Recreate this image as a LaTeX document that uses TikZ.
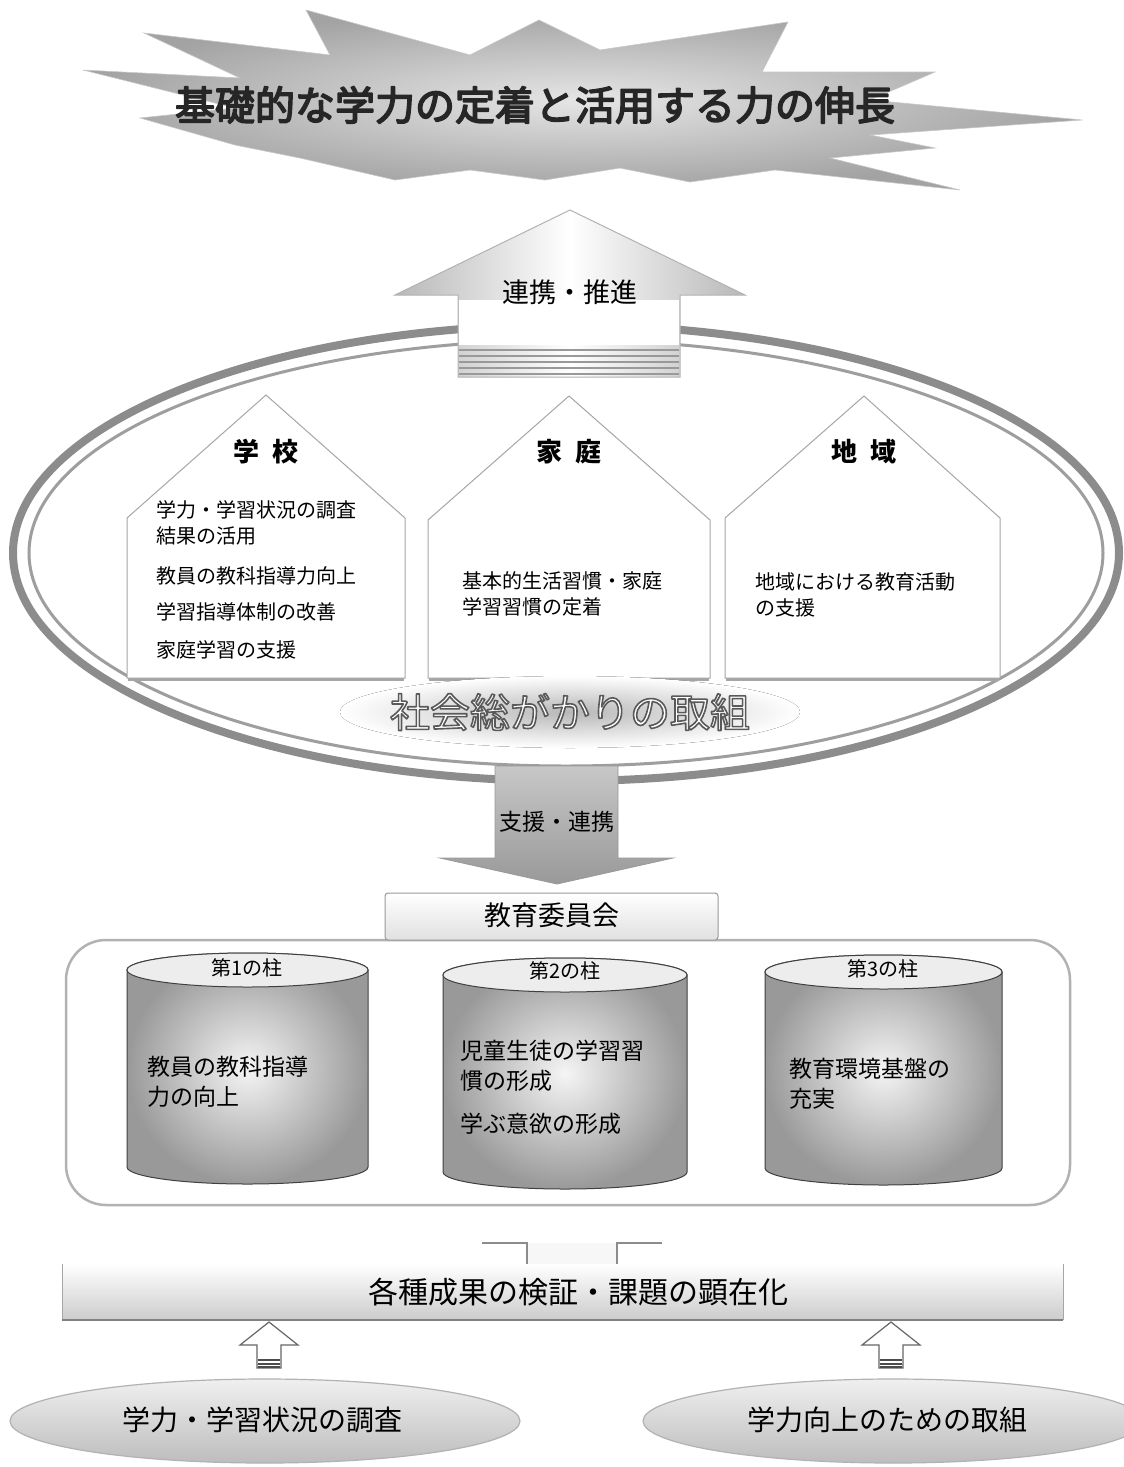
\documentclass[tikz,border=0pt]{standalone}
\usepackage{fontspec}
\setmainfont{Noto Sans CJK JP}
\usetikzlibrary{shapes.geometric}
\newcommand\outlinetext[3]{\special{pdf:literal direct #1 G 2 Tr #2 w 1 j}#3\special{pdf:literal direct 0 Tr}}
\tikzset{
  txt/.style={inner sep=0pt, font=\fontsize{20}{24}\selectfont, text=black},
  houseline/.style={txt, anchor=west, font=\fontsize{20}{24}\selectfont},
  housetitle/.style={txt, font=\fontsize{26}{30}\selectfont\bfseries},
  cyltxt/.style={txt, anchor=west, font=\fontsize{23}{27}\selectfont},
  cyllabel/.style={txt, font=\fontsize{20}{24}\selectfont},
  housebox/.style={fill=white, draw=black!35, line width=1pt, line join=miter},
  cylbody/.style={draw=black!75, line width=1pt, shading=radial, inner color=black!4, outer color=black!40},
  cyltop/.style={draw=black!75, line width=1pt, fill=black!7},
  smallarrow/.style={fill=white, draw=black!60, line width=1.2pt},
}
\begin{document}
\begin{tikzpicture}[x=1pt,y=-1pt]
\useasboundingbox (0,0) rectangle (1124,1467);
\fill[white] (0,0) rectangle (1124,1467);

% ---------- starburst ----------
\path[shading=radial, inner color=black!10, outer color=black!36, draw=black!22, line width=0.6pt]
  (306,10) -- (470,55) -- (539,20) -- (600,50) -- (788,22) -- (762,72) -- (935,72)
  -- (870,100) -- (1082,120) -- (870,135) -- (935,148) -- (830,158) -- (960,190)
  -- (775,170) -- (690,182) -- (620,168) -- (545,180) -- (470,170) -- (395,180)
  -- (300,158) -- (235,145) -- (140,118) -- (235,108) -- (83,70) -- (240,78)
  -- (144,33) -- (330,55) -- cycle;
\node[txt, text=black!85, font=\fontsize{40}{44}\selectfont] (title) at (535,105)
  {\outlinetext{0.15}{1.6}{基礎的な学力の定着と活用する力の伸長}};

% ---------- ring ----------
\draw[black!45, line width=8pt] (566,553) ellipse [x radius=553pt, y radius=228pt];
\draw[black!38, line width=3pt] (566,553) ellipse [x radius=537pt, y radius=213pt];

% ---------- up arrow ----------
\path[draw=black!30, line width=1pt, left color=black!28, right color=black!28, middle color=white]
  (458,377) -- (458,295) -- (395,295) -- (570,210) -- (745,295) -- (680,295) -- (680,377) -- cycle;
\fill[white] (459,300) rectangle (679,345);
\foreach \yy in {350,356,362,368,374}
  \draw[black!40, line width=1.6pt] (459,\yy) -- (679,\yy);
\node[txt, font=\fontsize{27}{30}\selectfont] (renkei) at (570,292) {連携・推進};

% ---------- houses ----------
\path[housebox] (127,678) -- (127,518) -- (266,395) -- (405,518) -- (405,678) -- cycle;
\path[housebox] (428,678) -- (428,520) -- (569,396) -- (710,520) -- (710,678) -- cycle;
\path[housebox] (725,678) -- (725,518) -- (864,396) -- (1000,518) -- (1000,678) -- cycle;
\draw[black!35, line width=3pt] (128,679) -- (404,679);
\draw[black!35, line width=3pt] (429,679) -- (709,679);
\draw[black!35, line width=3pt] (726,679) -- (999,679);

\node[housetitle] (gakko) at (266,452) {学\hspace{14pt}校};
\node[housetitle] (katei) at (569,452) {家\hspace{14pt}庭};
\node[housetitle] (chiiki) at (864,452) {地\hspace{14pt}域};

\node[houseline] (s1) at (156,510) {学力・学習状況の調査};
\node[houseline] (s2) at (156,536) {結果の活用};
\node[houseline] (s3) at (156,576) {教員の教科指導力向上};
\node[houseline] (s4) at (156,612) {学習指導体制の改善};
\node[houseline] (s5) at (156,650) {家庭学習の支援};

\node[houseline] (k1) at (462,581) {基本的生活習慣・家庭};
\node[houseline] (k2) at (462,607) {学習習慣の定着};

\node[houseline] (c1) at (755,582) {地域における教育活動};
\node[houseline] (c2) at (755,608) {の支援};

% ---------- society text ----------
\fill[shading=radial, inner color=black!28, outer color=white] (570,712) ellipse [x radius=230pt, y radius=36pt];
\node[txt, text=white, font=\fontsize{40}{44}\selectfont] (shakai) at (570,712)
  {\outlinetext{0.35}{1.6}{社会総がかりの取組}};

% ---------- down arrow ----------
\path[draw=black!40, line width=0.8pt, top color=black!22, bottom color=black!40]
  (495,766) -- (618,766) -- (618,858) -- (673,858) -- (557,884) -- (440,858) -- (495,858) -- cycle;
\node[txt, font=\fontsize{23}{26}\selectfont] (shien) at (557,822) {支援・連携};

% ---------- big rounded box ----------
\draw[black!30, line width=2.5pt, fill=white, rounded corners=40pt] (66,940) rectangle (1070,1205);

% ---------- board box ----------
\path[draw=black!40, line width=1pt, rounded corners=3pt, top color=white, bottom color=black!12]
  (385,893) rectangle (718,940);
\node[txt, font=\fontsize{27}{30}\selectfont] (iinkai) at (552,915) {教育委員会};

% ---------- cylinders ----------
\path[cylbody] (127,970) -- (127,1167) arc[start angle=180, end angle=360, x radius=120.5pt, y radius=17pt]
  -- (368,970) arc[start angle=0, end angle=180, x radius=120.5pt, y radius=17pt] -- cycle;
\path[cyltop] (247.5,970) ellipse [x radius=120.5pt, y radius=17pt];

\path[cylbody] (443,975) -- (443,1172) arc[start angle=180, end angle=360, x radius=122pt, y radius=17pt]
  -- (687,975) arc[start angle=0, end angle=180, x radius=122pt, y radius=17pt] -- cycle;
\path[cyltop] (565,975) ellipse [x radius=122pt, y radius=17pt];

\path[cylbody] (765,972) -- (765,1168) arc[start angle=180, end angle=360, x radius=118.5pt, y radius=17pt]
  -- (1002,972) arc[start angle=0, end angle=180, x radius=118.5pt, y radius=17pt] -- cycle;
\path[cyltop] (883.5,972) ellipse [x radius=118.5pt, y radius=17pt];

\node[cyllabel] (p1) at (247,968) {第1の柱};
\node[cyllabel] (p2) at (565,971) {第2の柱};
\node[cyllabel] (p3) at (883,969) {第3の柱};

\node[cyltxt] (a1) at (147,1067) {教員の教科指導};
\node[cyltxt] (a2) at (147,1097) {力の向上};

\node[cyltxt] (b1) at (460,1051) {児童生徒の学習習};
\node[cyltxt] (b2) at (460,1081) {慣の形成};
\node[cyltxt] (b3) at (460,1124) {学ぶ意欲の形成};

\node[cyltxt] (d1) at (789,1069) {教育環境基盤の};
\node[cyltxt] (d2) at (789,1099) {充実};

% ---------- faint up arrow into box ----------
\fill[black!3] (527,1265) -- (527,1243) -- (617,1243) -- (617,1265) -- cycle;
\draw[black!45, line width=1.2pt] (482,1243) -- (527,1243) -- (527,1264);
\draw[black!45, line width=1.2pt] (662,1243) -- (617,1243) -- (617,1264);

% ---------- bar ----------
\path[top color=white, bottom color=black!20] (62,1264) rectangle (1063,1320);
\draw[black!35, line width=1pt] (62,1264) -- (62,1320);
\draw[black!35, line width=1pt] (1063,1264) -- (1063,1320);
\draw[black!50, line width=2pt] (62,1320) -- (1063,1320);
\node[txt, font=\fontsize{30}{34}\selectfont] (kensho) at (578,1292) {各種成果の検証・課題の顕在化};

% ---------- small up arrows ----------
\path[smallarrow] (257,1368) -- (257,1345) -- (240,1345) -- (269,1322) -- (298,1345) -- (281,1345) -- (281,1368) -- cycle;
\foreach \yy in {1360,1364,1367} \draw[black!70, line width=1.2pt] (258,\yy) -- (280,\yy);
\path[smallarrow] (879,1368) -- (879,1345) -- (862,1345) -- (891,1322) -- (920,1345) -- (903,1345) -- (903,1368) -- cycle;
\foreach \yy in {1360,1364,1367} \draw[black!70, line width=1.2pt] (880,\yy) -- (902,\yy);

% ---------- bottom ellipses ----------
\path[draw=black!30, line width=1.2pt, top color=black!6, bottom color=black!26] (265,1421) ellipse [x radius=255pt, y radius=42pt];
\path[draw=black!30, line width=1.2pt, top color=black!6, bottom color=black!26] (893,1421) ellipse [x radius=250pt, y radius=42pt];
\node[txt, font=\fontsize{28}{32}\selectfont] (chosa) at (262,1420) {学力・学習状況の調査};
\node[txt, font=\fontsize{28}{32}\selectfont] (torikumi) at (887,1420) {学力向上のための取組};
\end{tikzpicture}
\end{document}
